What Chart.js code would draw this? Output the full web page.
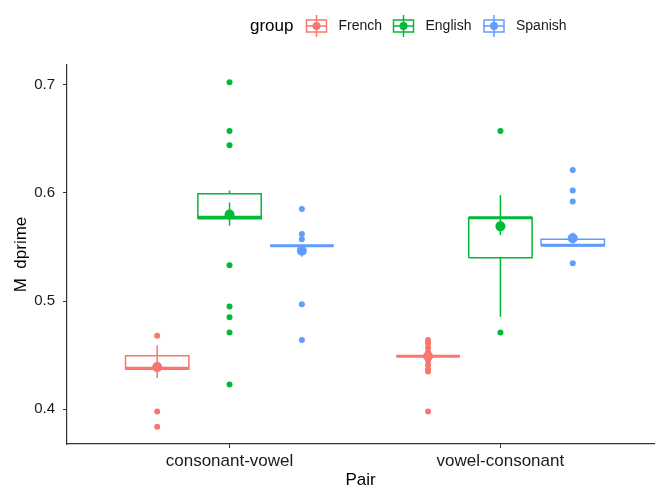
<!DOCTYPE html>
<html>
<head>
<meta charset="utf-8">
<script src="https://cdn.jsdelivr.net/npm/chart.js@4"></script>
<style>
  html, body { margin: 0; padding: 0; background: #fff; }
  #wrap { width: 659px; height: 491px; }
</style>
</head>
<body>
<div id="wrap"><canvas id="myChart" width="659" height="491"></canvas></div>
<script>
const pairs = ['consonant-vowel', 'vowel-consonant'];
const groups = ['French', 'English', 'Spanish'];
const groupColors = ['#F8766D', '#00BA38', '#619CFF'];
const yTicks = [0.4, 0.5, 0.6, 0.7];

// individual points per pair
const frenchPoints = [[0.468, 0.398, 0.384], [0.464, 0.461, 0.457, 0.453, 0.449, 0.445, 0.441, 0.437, 0.435, 0.398]];
const englishPoints = [[0.702, 0.657, 0.644, 0.533, 0.495, 0.485, 0.471, 0.423], [0.657, 0.471]];
const spanishPoints = [[0.585, 0.562, 0.557, 0.497, 0.464], [0.621, 0.602, 0.592, 0.535]];

// box stats: lower whisker, q1, median, q3, upper whisker
const frenchBox = [[0.437, 0.437, 0.438, 0.4495, 0.459], [0.449, 0.449, 0.449, 0.449, 0.449]];
const englishBox = [[0.576, 0.576, 0.5775, 0.599, 0.602], [0.4855, 0.540, 0.577, 0.577, 0.598]];
const spanishBox = [[0.551, 0.551, 0.551, 0.551, 0.551], [0.551, 0.551, 0.5515, 0.557, 0.557]];

// mean and error bar (low, high)
const frenchMean = [0.439, 0.449];
const englishMean = [0.580, 0.569];
const spanishMean = [0.5465, 0.558];
const frenchErr = [[0.429, 0.449], [0.446, 0.452]];
const englishErr = [[0.5695, 0.591], [0.561, 0.578]];
const spanishErr = [[0.541, 0.552], [0.553, 0.563]];

const allPoints = [frenchPoints, englishPoints, spanishPoints];
const allBoxes = [frenchBox, englishBox, spanishBox];
const allMeans = [frenchMean, englishMean, spanishMean];
const allErr = [frenchErr, englishErr, spanishErr];

const dodge = 0.267;
const halfBox = 0.117;
const font = '"Liberation Sans", Arial, sans-serif';

const datasets = [];
groups.forEach((g, gi) => {
    const col = groupColors[gi];
    const off = (gi - 1) * dodge;
    const boxLines = [], whisk = [], med = [], pts = [], means = [], errs = [];
    pairs.forEach((p, pi) => {
        const cx = pi + 1 + off;
        const b = allBoxes[gi][pi];
        boxLines.push({x: cx - halfBox, y: b[1]}, {x: cx + halfBox, y: b[1]}, {x: cx + halfBox, y: b[3]},
            {x: cx - halfBox, y: b[3]}, {x: cx - halfBox, y: b[1]}, {x: cx, y: null});
        whisk.push({x: cx, y: b[0]}, {x: cx, y: b[1]}, {x: cx, y: null}, {x: cx, y: b[3]}, {x: cx, y: b[4]}, {x: cx, y: null});
        med.push({x: cx - halfBox, y: b[2]}, {x: cx + halfBox, y: b[2]}, {x: cx, y: null});
        allPoints[gi][pi].forEach(v => pts.push({x: cx, y: v}));
        means.push({x: cx, y: allMeans[gi][pi]});
        errs.push({x: cx, y: allErr[gi][pi][0]}, {x: cx, y: allErr[gi][pi][1]}, {x: cx, y: null});
    });
    const lineDs = (data, w, order) => ({
        type: 'line', data, borderColor: col, borderWidth: w, pointRadius: 0,
        fill: false, tension: 0, spanGaps: false, order
    });
    datasets.push(lineDs(boxLines, 1.5, 4));
    datasets.push(lineDs(whisk, 1.5, 4));
    datasets.push(lineDs(med, 3, 3));
    datasets.push(lineDs(errs, 1.5, 2));
    datasets.push({type: 'scatter', data: pts, backgroundColor: col, borderWidth: 0, pointRadius: 3, order: 1});
    datasets.push({type: 'scatter', data: means, backgroundColor: col, borderWidth: 0, pointRadius: 5, order: 0});
});

// ggplot style legend on top
const legendPlugin = {
    id: 'ggLegend',
    afterDraw(chart) {
        const c = chart.ctx;
        c.save();
        c.textBaseline = 'middle';
        c.fillStyle = '#000';
        c.font = '17px ' + font;
        c.fillText('group', 250, 26);
        const iconX = [316.5, 403.5, 494];
        groups.forEach((g, i) => {
            const x = iconX[i], y = 26;
            c.strokeStyle = groupColors[i];
            c.fillStyle = groupColors[i];
            c.lineWidth = 1.5;
            c.strokeRect(x - 10, y - 6, 20, 12);
            c.beginPath();
            c.moveTo(x, y - 11); c.lineTo(x, y + 11);
            c.moveTo(x - 10, y); c.lineTo(x + 10, y);
            c.stroke();
            c.beginPath();
            c.arc(x, y, 4, 0, Math.PI * 2);
            c.fill();
            c.fillStyle = '#1a1a1a';
            c.font = '14px ' + font;
            c.fillText(g, x + 22, y);
        });
        c.restore();
    }
};

const ctx = document.getElementById('myChart');
new Chart(ctx, {
    data: { datasets },
    options: {
        responsive: false,
        animation: false,
        layout: { padding: { top: 65, right: 0, left: 0, bottom: 0 } },
        plugins: { legend: { display: false }, tooltip: { enabled: false } },
        scales: {
            x: {
                type: 'linear', min: 0.4, max: 2.567,
                afterBuildTicks: s => { s.ticks = pairs.map((p, i) => ({ value: i + 1 })); },
                afterFit: s => { s.height = 47; },
                ticks: {
                    callback: v => pairs[v - 1], color: '#1a1a1a', padding: 3,
                    font: { family: font, size: 17 }
                },
                grid: { drawOnChartArea: false, drawTicks: true, tickLength: 4, color: '#333' },
                border: { display: true, color: '#333', width: 1.2 },
                title: {
                    display: true, text: 'Pair', color: '#000', padding: { top: 0, bottom: 0 },
                    font: { family: font, size: 17 }
                }
            },
            y: {
                type: 'linear', min: 0.368, max: 0.718,
                afterBuildTicks: s => { s.ticks = yTicks.map(v => ({ value: v })); },
                afterFit: s => { s.width = 67; },
                ticks: {
                    callback: v => v.toFixed(1), color: '#1a1a1a', padding: 8,
                    font: { family: font, size: 15 }
                },
                grid: { drawOnChartArea: false, drawTicks: true, tickLength: 4, color: '#333' },
                border: { display: true, color: '#333', width: 1.2 },
                title: {
                    display: true, text: 'M  dprime', color: '#000', padding: { top: 11, bottom: 0 },
                    font: { family: font, size: 17 }
                }
            }
        }
    },
    plugins: [legendPlugin]
});
</script>
</body>
</html>
